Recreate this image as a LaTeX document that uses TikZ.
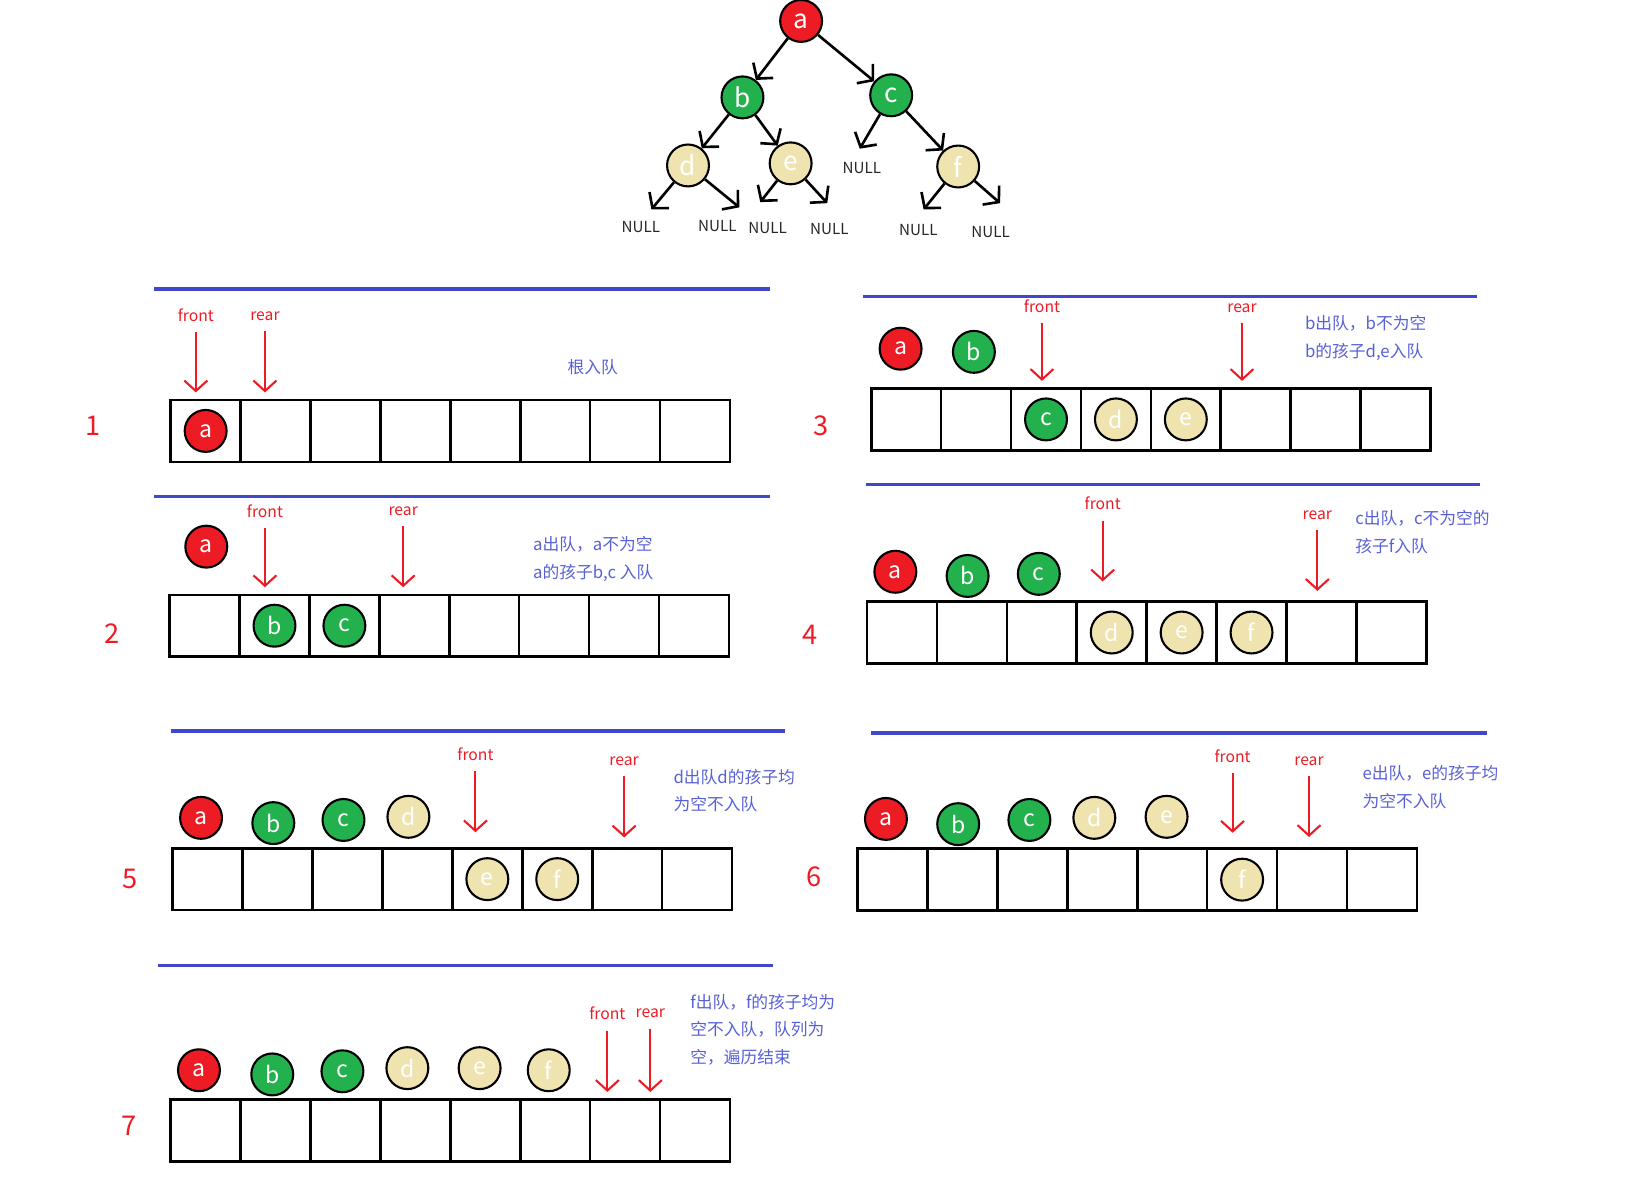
\documentclass[tikz,border=0pt]{standalone}
\usepackage{fontspec}
\setmainfont{Noto Sans CJK SC}
\usepackage{tikz}
\usetikzlibrary{arrows.meta,positioning}
\definecolor{ballred}{RGB}{237,28,36}
\definecolor{ballgreen}{RGB}{34,177,76}
\definecolor{ballsand}{RGB}{239,228,176}
\definecolor{lineblue}{RGB}{63,72,204}
\definecolor{noteblue}{RGB}{88,96,214}
\begin{document}
\begin{tikzpicture}[
    x=1pt, y=-1pt,
    ball/.style={circle, draw, line width=2pt, minimum size=40pt, inner sep=0pt, text=white, font=\fontsize{22}{22}\selectfont},
    redball/.style={ball, fill=ballred},
    greenball/.style={ball, fill=ballgreen},
    sandball/.style={ball, fill=ballsand},
    treeball/.style={font=\fontsize{25}{25}\selectfont},
    cell/.style={rectangle, draw, line width=2.5pt, minimum width=66.75pt, minimum height=59pt, inner sep=0pt},
    nulltext/.style={text=black!85, font=\fontsize{14.5}{14.5}\selectfont, inner sep=1pt},
    ptrtext/.style={text=ballred, font=\fontsize{15}{15}\selectfont, inner sep=2pt},
    ptr/.style={-{Straight Barb[length=10pt,width=22pt]}, line width=2pt, draw=ballred, shorten <=8pt, shorten >=6pt},
    tree/.style={-{Straight Barb[length=10pt,width=24pt]}, line width=2.5pt},
    step num/.style={text=ballred, font=\fontsize{26}{26}\selectfont},
    note/.style={text=noteblue, font=\fontsize{16}{26.5}\selectfont, align=left, anchor=north west, inner sep=0pt},
    sep/.style={draw=lineblue, line width=3pt}
]
    \useasboundingbox (0,0) rectangle (1568,1140);

    \node[redball, treeball] (a) at (765,20) {a};
    \node[greenball, treeball] (b) at (709,93) {b};
    \node[greenball, treeball] (c) at (851,91) {c};
    \node[sandball, treeball] (d) at (657,158) {d};
    \node[sandball, treeball] (e) at (755,156) {e};
    \node[sandball, treeball] (f) at (915,159) {f};
    \node[nulltext] (null1) at (612,217) {NULL};
    \node[nulltext] (null2) at (685,216) {NULL};
    \node[nulltext] (null3) at (733,218) {NULL};
    \node[nulltext] (null4) at (792,219) {NULL};
    \node[nulltext] (null5) at (823,160) {NULL};
    \node[nulltext] (null6) at (877,220) {NULL};
    \node[nulltext] (null7) at (946,222) {NULL};
    \coordinate (d-l) at (622,200);
    \coordinate (d-r) at (706,198);
    \coordinate (e-l) at (726,193);
    \coordinate (e-r) at (790,194);
    \coordinate (c-l) at (821,142);
    \coordinate (f-l) at (882,200);
    \coordinate (f-r) at (955,194);
    \draw[tree] (a) -- (b);
    \draw[tree] (a) -- (c);
    \draw[tree] (b) -- (d);
    \draw[tree] (b) -- (e);
    \draw[tree] (c) -- (f);
    \draw[tree] (d) -- (d-l);
    \draw[tree] (d) -- (d-r);
    \draw[tree] (e) -- (e-l);
    \draw[tree] (e) -- (e-r);
    \draw[tree] (c) -- (c-l);
    \draw[tree] (f) -- (f-l);
    \draw[tree] (f) -- (f-r);

    \draw[sep] (147,276) -- (735,276);
    \node[step num] (s1) at (89,407) {1};
    \foreach \i in {1,...,8}
        \node[cell] (q1-\i) at ({163+66.75*(\i-0.5)},411.5) {};
    \node[redball] (a1) at (q1-1) {a};
    \node[ptrtext] (front1) at (187,301) {front};
    \node[ptrtext] (rear1) at (253,302) {rear};
    \draw[ptr] (front1) -- (front1 |- q1-1.north);
    \draw[ptr] (rear1) -- (rear1 |- q1-2.north);
    \node[note, anchor=center] (note1) at (566,351) {根入队};

    \draw[sep] (147,474) -- (735,474);
    \node[step num] (s2) at (107,605) {2};
    \foreach \i in {1,...,8}
        \node[cell] (q2-\i) at ({162+66.75*(\i-0.5)},597.5) {};
    \node[redball] (a2) at (197,522) {a};
    \node[greenball] (b2) at (q2-2) {b};
    \node[greenball] (c2) at (q2-3) {c};
    \node[ptrtext] (front2) at (253,488) {front};
    \node[ptrtext] (rear2) at (385,488) {rear};
    \draw[ptr] (front2) -- (front2 |- q2-2.north);
    \draw[ptr] (rear2) -- (rear2 |- q2-4.north);
    \node[note] (note2) at (509,512) {a出队，a不为空\\a的孩子b,c 入队};

    \draw[sep] (824,283) -- (1410,283);
    \node[step num] (s3) at (784,407) {3};
    \foreach \i in {1,...,8}
        \node[cell] (q3-\i) at ({832+66.75*(\i-0.5)},400.5) {};
    \node[redball] (a3) at (860,333) {a};
    \node[greenball] (b3) at (930,336) {b};
    \node[greenball] (c3) at (q3-3) {c};
    \node[sandball] (d3) at (q3-4) {d};
    \node[sandball] (e3) at (q3-5) {e};
    \node[ptrtext] (front3) at (995,292) {front};
    \node[ptrtext] (rear3) at (1186,294) {rear};
    \draw[ptr] (front3) -- (front3 |- q3-3.north);
    \draw[ptr] (rear3) -- (rear3 |- q3-6.north);
    \node[note] (note3) at (1246,301) {b出队，b不为空\\b的孩子d,e入队};

    \draw[sep] (827,463) -- (1413,463);
    \node[step num] (s4) at (774,606) {4};
    \foreach \i in {1,...,8}
        \node[cell] (q4-\i) at ({828+66.75*(\i-0.5)},604) {};
    \node[redball] (a4) at (855,546) {a};
    \node[greenball] (b4) at (924,550) {b};
    \node[greenball] (c4) at (992,548) {c};
    \node[sandball] (d4) at (q4-4) {d};
    \node[sandball] (e4) at (q4-5) {e};
    \node[sandball] (f4) at (q4-6) {f};
    \node[ptrtext] (front4) at (1053,481) {front};
    \node[ptrtext] (rear4) at (1258,492) {rear};
    \draw[ptr, shorten >=18pt] (front4) -- (front4 |- q4-4.north);
    \draw[ptr, shorten >=9pt] (rear4) -- (rear4 |- q4-7.north);
    \node[note] (note4) at (1294,487) {c出队，c不为空的\\孩子f入队};

    \draw[sep] (163,698) -- (750,698);
    \node[step num] (s5) at (124,839) {5};
    \foreach \i in {1,...,8}
        \node[cell] (q5-\i) at ({165+66.75*(\i-0.5)},839.5) {};
    \node[redball] (a5) at (192,781) {a};
    \node[greenball] (b5) at (261,786) {b};
    \node[greenball] (c5) at (328,783) {c};
    \node[sandball] (d5) at (390,780) {d};
    \node[sandball] (e5) at (q5-5) {e};
    \node[sandball] (f5) at (q5-6) {f};
    \node[ptrtext] (front5) at (454,720) {front};
    \node[ptrtext] (rear5) at (596,727) {rear};
    \draw[ptr, shorten >=14pt] (front5) -- (front5 |- q5-5.north);
    \draw[ptr, shorten >=9pt] (rear5) -- (rear5 |- q5-7.north);
    \node[note] (note5) at (643,734) {d出队d的孩子均\\为空不入队};

    \draw[sep] (832,700) -- (1420,700);
    \node[step num] (s6) at (777,837) {6};
    \foreach \i in {1,...,8}
        \node[cell] (q6-\i) at ({819+66.75*(\i-0.5)},840) {};
    \node[redball] (a6) at (846,782) {a};
    \node[greenball] (b6) at (915,787) {b};
    \node[greenball] (c6) at (983,783) {c};
    \node[sandball] (d6) at (1045,781) {d};
    \node[sandball] (e6) at (1114,780) {e};
    \node[sandball] (f6) at (q6-6) {f};
    \node[ptrtext] (front6) at (1177,722) {front};
    \node[ptrtext] (rear6) at (1250,727) {rear};
    \draw[ptr, shorten >=14pt] (front6) -- (front6 |- q6-6.north);
    \draw[ptr, shorten >=10pt] (rear6) -- (rear6 |- q6-7.north);
    \node[note] (note6) at (1301,731) {e出队，e的孩子均\\为空不入队};

    \draw[sep] (151,922) -- (738,922);
    \node[step num] (s7) at (123,1075) {7};
    \foreach \i in {1,...,8}
        \node[cell] (q7-\i) at ({163+66.75*(\i-0.5)},1079.5) {};
    \node[redball] (a7) at (190,1022) {a};
    \node[greenball] (b7) at (260,1026) {b};
    \node[greenball] (c7) at (327,1023) {c};
    \node[sandball] (d7) at (389,1020) {d};
    \node[sandball] (e7) at (458,1020) {e};
    \node[sandball] (f7) at (524,1022) {f};
    \node[ptrtext] (front7) at (580,968) {front};
    \node[ptrtext] (rear7) at (621,968) {rear};
    \draw[ptr] (front7) -- (front7 |- q7-7.north);
    \draw[ptr] (rear7) -- (rear7 |- q7-7.north);
    \node[note] (note7) at (659,949) {f出队，f的孩子均为\\空不入队，队列为\\空，遍历结束};
\end{tikzpicture}
\end{document}
